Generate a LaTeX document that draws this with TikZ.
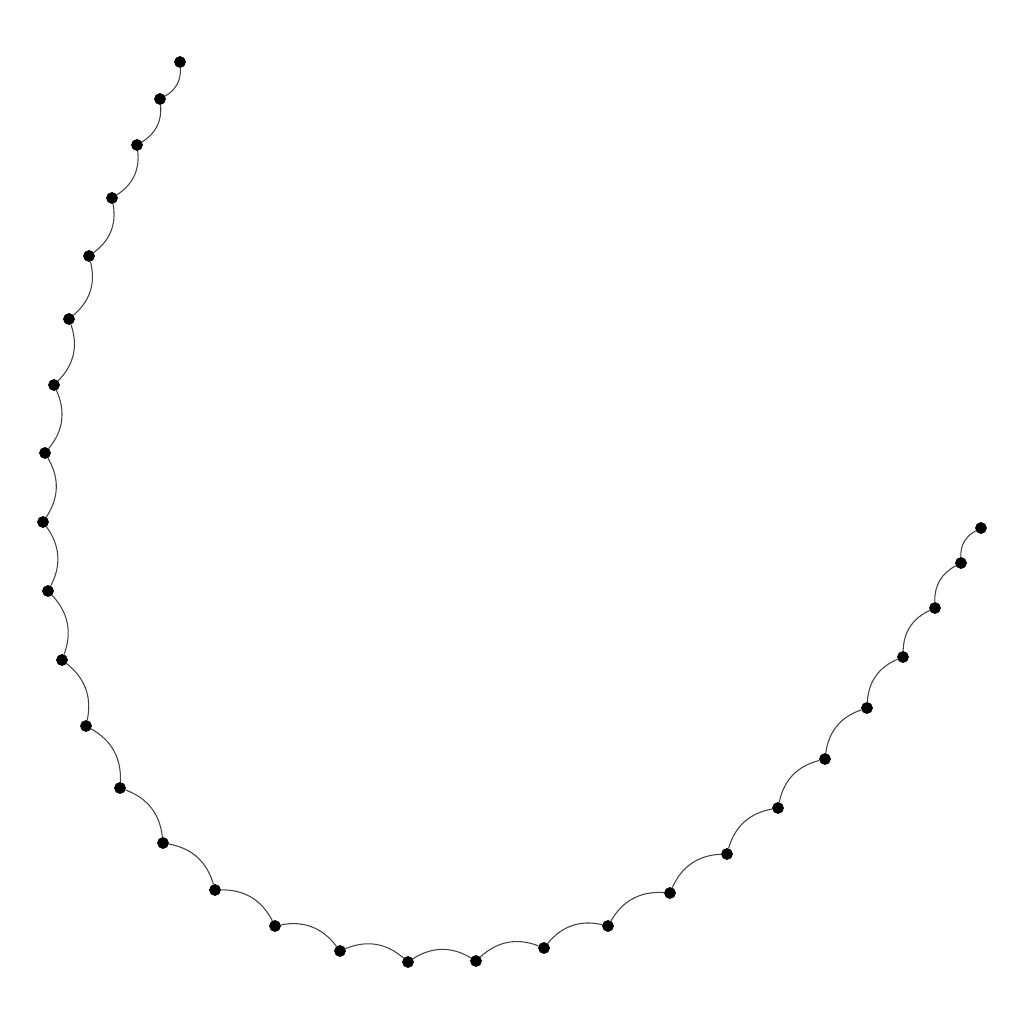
\documentclass[tikz,border=0pt]{standalone}
\usepackage{tikz}
\usetikzlibrary{calc, positioning}

\begin{document}
\begin{tikzpicture}[dot/.style={circle, fill=black, draw=black, line width=0.2pt, inner sep=0pt, minimum size=0.11cm},
    edge/.style={line width=0.3pt, black!75}]
    \useasboundingbox (0,0) rectangle (10.24,10.24);
    % 1. Các điểm
    \foreach \i/\x/\y in {1/1.80/9.62, 2/1.60/9.25, 3/1.37/8.79, 4/1.12/8.26, 5/0.89/7.68,
        6/0.69/7.05, 7/0.54/6.39, 8/0.45/5.71, 9/0.43/5.02, 10/0.48/4.33,
        11/0.62/3.64, 12/0.86/2.98, 13/1.20/2.36, 14/1.63/1.81, 15/2.15/1.34,
        16/2.75/0.98, 17/3.40/0.73, 18/4.08/0.62, 19/4.76/0.63, 20/5.44/0.76,
        21/6.08/0.98, 22/6.70/1.31, 23/7.27/1.70, 24/7.78/2.16, 25/8.25/2.65,
        26/8.67/3.16, 27/9.03/3.67, 28/9.35/4.16, 29/9.61/4.61, 30/9.81/4.96}
        \node[dot] (p\i) at (\x,\y) {};
    % 2. Các cung nối
    \foreach \i [count=\j from 2] in {1,...,29}
        \draw[edge] (p\i) to[bend left=32] (p\j);
\end{tikzpicture}
\end{document}
